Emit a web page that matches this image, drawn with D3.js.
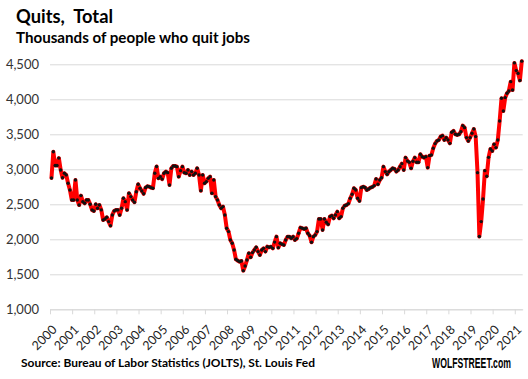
<!DOCTYPE html>
<html><head><meta charset="utf-8">
<script src="https://cdn.jsdelivr.net/npm/d3@7"></script>
<style>body{margin:0;background:#fff}svg{display:block}</style>
</head><body>
<svg id="chart" width="528" height="379"></svg>
<script>
// Monthly total quits (thousands), Dec 2000 .. Mar 2022
const firstMonth = "2000-12";
const quits2000 = [2876];
const quits2001 = [3250,3055,3055,3160,2990,2880,2943,2920,2800,2705,2562,2562];
const quits2002 = [2848,2562,2490,2624,2538,2514,2562,2562,2500,2420,2405,2500];
const quits2003 = [2443,2490,2420,2276,2290,2314,2253,2195,2348,2405,2420,2420];
const quits2004 = [2348,2443,2586,2538,2420,2657,2610,2562,2530,2680,2786,2730];
const quits2005 = [2690,2650,2738,2757,2752,2738,2730,2943,3040,2871,2895,2860];
const quits2006 = [2943,2967,2952,2776,3014,3048,3048,3038,2895,2981,3038,2952];
const quits2007 = [2943,2990,2919,2967,2919,2943,3014,2919,2695,2919,2800,2824];
const quits2008 = [2871,2895,2657,2848,2610,2562,2490,2443,2467,2348,2157,2110];
const quits2009 = [1990,1943,1848,1714,1695,1681,1690,1552,1619,1705,1800,1743];
const quits2010 = [1810,1848,1886,1824,1776,1848,1871,1824,1895,1886,1895,1871];
const quits2011 = [1960,2038,1881,1943,1930,1919,1990,2038,2038,2015,2038,1990];
const quits2012 = [2010,2086,2167,2157,2148,2157,2086,2052,1957,2038,2062,2110];
const quits2013 = [2290,2290,2133,2290,2243,2214,2324,2338,2300,2348,2395,2300];
const quits2014 = [2324,2443,2481,2490,2510,2586,2643,2729,2705,2586,2548,2738];
const quits2015 = [2752,2740,2705,2719,2738,2748,2767,2862,2786,2848,2881,3038];
const quits2016 = [2967,2929,2967,2990,3014,3005,2967,2990,3038,3081,2990,3167];
const quits2017 = [3119,3100,3014,3114,3167,3100,3100,3214,3181,3167,3181,3024];
const quits2018 = [3195,3205,3300,3367,3405,3419,3467,3481,3419,3453,3419,3371];
const quits2019 = [3529,3548,3500,3491,3500,3538,3624,3595,3453,3405,3453,3515];
const quits2020 = [3576,3467,2952,2039,2253,2576,2981,2900,3171,3290,3262,3357];
const quits2021 = [3310,3419,3690,4014,3833,4024,4086,4119,4252,4133,4520,4410];
const quits2022 = [4370,4270,4545];

const yearLabels = ["2000","2001","2002","2003","2004","2005","2006","2007","2008","2009","2010",
  "2011","2012","2013","2014","2015","2016","2017","2018","2019","2020","2021"];
const yTicks = [1000,1500,2000,2500,3000,3500,4000,4500];

const titleText = "Quits,  Total";
const subtitleText = "Thousands of people who quit jobs";
const sourceText = "Source: Bureau of Labor Statistics (JOLTS), St. Louis Fed";
const brandText = "WOLFSTREET.com";

const quits = [].concat(quits2000,quits2001,quits2002,quits2003,quits2004,quits2005,quits2006,
  quits2007,quits2008,quits2009,quits2010,quits2011,quits2012,quits2013,quits2014,quits2015,
  quits2016,quits2017,quits2018,quits2019,quits2020,quits2021,quits2022);
const data = quits.map((v,i)=>({i, v}));

const svg = d3.select("#chart");
const pLeft = 50, pRight = 522.7, pTop = 64.3, pBottom = 309.3;

const x = d3.scaleLinear().domain([-0.8, 255.5]).range([pLeft, pRight]);
const y = d3.scaleLinear().domain([1000, 4500]).range([pBottom, pTop]);
const font = "Lato, 'Open Sans', sans-serif";

// y gridlines + labels
const yAxis = svg.append("g").attr("transform", `translate(${pLeft},0)`)
  .call(d3.axisLeft(y).tickValues(yTicks).tickFormat(d3.format(","))
    .tickSize(-(pRight-pLeft)).tickPadding(11));
yAxis.select(".domain").remove();
yAxis.selectAll(".tick line").attr("stroke", "#d9d9d9").attr("stroke-width", 1);
yAxis.selectAll(".tick text").attr("fill", "#333")
  .style("font-family", font).style("font-size", "13px");

// x axis
const xTickPos = yearLabels.map((d,k)=>k*12 - 0.8);
const xAxis = svg.append("g").attr("transform", `translate(0,${pBottom})`)
  .call(d3.axisBottom(x).tickValues(xTickPos).tickFormat((d,k)=>yearLabels[k])
    .tickSize(5).tickSizeOuter(0));
xAxis.select(".domain").attr("stroke", "#d9d9d9");
xAxis.selectAll(".tick line").attr("stroke", "#d9d9d9");
xAxis.selectAll(".tick text")
  .attr("fill", "#222")
  .style("font-family", font).style("font-size", "12.5px")
  .attr("text-anchor", "end").attr("x", 0).attr("y", 0).attr("dy", "0.35em")
  .attr("transform", "translate(4,18) rotate(-45)");

// line
const line = d3.line().x(d=>x(d.i)).y(d=>y(d.v));
svg.append("path").datum(data).attr("d", line)
  .attr("fill", "none").attr("stroke", "#ff0000").attr("stroke-width", 4)
  .attr("stroke-linejoin", "round").attr("stroke-linecap", "round");

svg.append("g").selectAll("circle").data(data).join("circle")
  .attr("cx", d=>x(d.i)).attr("cy", d=>y(d.v)).attr("r", 1.7).attr("fill", "#111");

// titles
svg.append("text").attr("x", 16).attr("y", 23).text(titleText)
  .style("font-family", font).style("font-weight", "bold").style("font-size", "19px")
  .style("white-space", "pre").attr("fill", "#000")
  .attr("textLength", 97).attr("lengthAdjust", "spacingAndGlyphs");
svg.append("text").attr("x", 16).attr("y", 43).text(subtitleText)
  .style("font-family", font).style("font-weight", "bold").style("font-size", "15px")
  .attr("fill", "#000").attr("textLength", 234).attr("lengthAdjust", "spacingAndGlyphs");
svg.append("text").attr("x", 21).attr("y", 367).text(sourceText)
  .style("font-family", font).style("font-weight", "bold").style("font-size", "12px")
  .attr("fill", "#000").attr("textLength", 294).attr("lengthAdjust", "spacingAndGlyphs");
const brand = svg.append("text").attr("x", 0).attr("y", 0).text(brandText)
  .style("font-family", "'Liberation Sans', Arial, sans-serif").style("font-weight", "bold").style("font-size", "14.5px")
  .attr("fill", "#000");
const bw = brand.node().getComputedTextLength();
brand.attr("transform", `translate(432,367.5) scale(${79/bw},1)`);
</script>
</body></html>
